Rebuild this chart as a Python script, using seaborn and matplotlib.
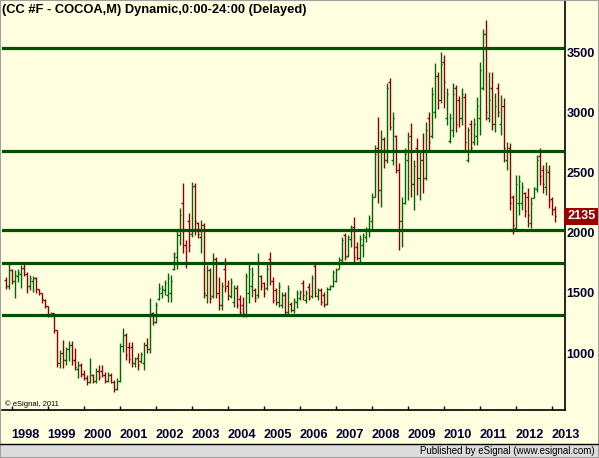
import numpy as np
import pandas as pd
import matplotlib
matplotlib.use("Agg")
import matplotlib.pyplot as plt
import matplotlib.transforms as mtransforms
from matplotlib.patches import Rectangle
from matplotlib.lines import Line2D
import seaborn as sns

# monthly bars, month index counted from Jan 1998 (first bar = Nov 1997)
start_month = -2
opens = [
    1610, 1560,
    1690, 1600, 1640, 1660, 1710, 1660, 1560, 1600, 1620, 1530, 1500, 1440,
    1390, 1315, 1330, 1190, 920, 1000, 940, 1030, 1070, 940, 870, 900,
    830, 790, 760, 820, 770, 850, 850, 820, 770, 820, 760, 700,
    770, 1060, 1150, 1050, 1050, 920, 960, 930, 920, 1070, 1030, 1330,
    1260, 1450, 1500, 1520, 1480, 1500, 1700, 1800, 1980, 2250, 1900, 2100,
    1990, 2390, 2080, 1960, 2060, 1480, 1690, 1470, 1780, 1500, 1400, 1700,
    1560, 1470, 1420, 1540, 1450, 1400, 1320, 1500, 1560, 1520, 1480, 1640,
    1580, 1540, 1780, 1600, 1520, 1420, 1400, 1480, 1340, 1410, 1360, 1420,
    1460, 1580, 1440, 1550, 1470, 1720, 1470, 1520, 1480, 1410, 1530, 1560,
    1600, 1700, 1770, 1980, 1810, 1950, 2050, 1880, 1790, 1900, 1960, 2030,
    2100, 2300, 2700, 2350, 2780, 2600, 3250, 2600, 2800, 2520, 2100, 2250,
    2600, 2800, 2400, 2700, 2450, 2600, 2450, 2950, 2800, 3000, 3300, 3100,
    3420, 2950, 2760, 2850, 3200, 3100, 2950, 3130, 2600, 2900, 2750, 2800,
    2950, 3200, 3650, 2950, 3200, 2900, 3200, 2900, 3050, 2600, 2700, 2300,
    2040, 2250, 2250, 2330, 2300, 2080, 2290, 2360, 2640, 2520, 2380, 2500,
    2280, 2200,
]
highs = [
    1635, 1760,
    1700, 1690, 1700, 1730, 1755, 1676, 1650, 1640, 1630, 1535, 1500, 1445,
    1390, 1345, 1330, 1190, 1026, 1109, 1054, 1096, 1096, 1040, 930, 915,
    860, 819, 957, 825, 874, 902, 902, 846, 846, 833, 777, 791,
    1082, 1206, 1165, 1095, 1095, 971, 999, 1012, 1095, 1123, 1455, 1344,
    1427, 1580, 1566, 1607, 1663, 1649, 1843, 2022, 2202, 2410, 1939, 2160,
    2424, 2415, 2092, 2105, 2078, 1732, 1704, 1829, 1801, 1635, 1593, 1787,
    1607, 1621, 1566, 1566, 1483, 1469, 1663, 1746, 1718, 1538, 1829, 1649,
    1593, 1746, 1843, 1635, 1538, 1593, 1510, 1510, 1566, 1427, 1455, 1524,
    1524, 1607, 1524, 1580, 1649, 1746, 1538, 1538, 1510, 1552, 1566, 1690,
    1704, 1801, 1967, 1995, 1981, 2064, 2133, 1925, 1981, 1995, 2050, 2147,
    2327, 2728, 2963, 2852, 2797, 3240, 3281, 3004, 2811, 2576, 2299, 2700,
    2838, 2908, 2603, 2783, 2686, 2825, 2921, 3004, 3212, 3406, 3336, 3503,
    3475, 3198, 2991, 3240, 3226, 3134, 3198, 3157, 2880, 2935, 2949, 3129,
    3419, 3688, 3765, 3336, 3336, 3157, 3240, 3143, 3115, 2755, 2742, 2313,
    2479, 2479, 2423, 2341, 2368, 2299, 2382, 2645, 2700, 2560, 2590, 2560,
    2300, 2220,
]
lows = [
    1530, 1530,
    1570, 1460, 1590, 1540, 1640, 1502, 1520, 1510, 1497, 1480, 1413, 1372,
    1303, 1300, 1165, 888, 874, 874, 900, 930, 900, 860, 791, 805,
    775, 736, 750, 750, 749, 777, 805, 749, 763, 749, 680, 694,
    763, 1012, 943, 915, 888, 888, 860, 915, 860, 999, 998, 1234,
    1250, 1440, 1455, 1483, 1427, 1427, 1690, 1696, 1900, 1829, 1704, 1843,
    1967, 1981, 1953, 1829, 1461, 1414, 1414, 1455, 1455, 1358, 1358, 1510,
    1441, 1455, 1386, 1372, 1317, 1303, 1303, 1414, 1469, 1427, 1455, 1524,
    1469, 1524, 1566, 1414, 1400, 1386, 1372, 1317, 1317, 1344, 1331, 1372,
    1441, 1441, 1414, 1441, 1455, 1469, 1441, 1400, 1386, 1400, 1520, 1552,
    1593, 1696, 1759, 1773, 1801, 1884, 1759, 1773, 1759, 1801, 1925, 1967,
    2022, 2299, 2244, 2216, 2534, 2580, 2852, 2562, 2493, 1856, 1884, 2240,
    2271, 2299, 2188, 2313, 2271, 2327, 2437, 2686, 2783, 2949, 3024, 3074,
    3035, 2894, 2742, 2797, 2838, 2880, 2894, 2672, 2589, 2672, 2728, 2728,
    2811, 3184, 2935, 2921, 2852, 2838, 2963, 2811, 2589, 2520, 2188, 1985,
    2010, 2147, 2188, 2133, 2050, 2036, 2285, 2341, 2396, 2328, 2311, 2203,
    2147, 2089,
]
closes = [
    1560, 1690,
    1600, 1650, 1670, 1710, 1660, 1560, 1620, 1625, 1530, 1500, 1450, 1390,
    1320, 1335, 1190, 920, 1000, 940, 1030, 1070, 940, 880, 900, 830,
    790, 760, 820, 770, 850, 800, 820, 770, 820, 760, 700, 770,
    1060, 1150, 980, 950, 920, 950, 900, 990, 1070, 1030, 1320, 1260,
    1400, 1540, 1530, 1580, 1620, 1600, 1820, 1980, 2150, 1900, 1760, 1900,
    2380, 2100, 1990, 2060, 1500, 1690, 1460, 1780, 1500, 1400, 1560, 1540,
    1480, 1590, 1540, 1400, 1340, 1330, 1640, 1700, 1660, 1460, 1760, 1560,
    1500, 1700, 1600, 1440, 1420, 1560, 1480, 1340, 1530, 1360, 1430, 1500,
    1510, 1480, 1500, 1460, 1620, 1500, 1520, 1420, 1400, 1530, 1555, 1670,
    1690, 1780, 1940, 1800, 1960, 2040, 1800, 1790, 1950, 1980, 2030, 2120,
    2300, 2650, 2350, 2780, 2600, 3200, 2880, 2950, 2520, 2100, 2250, 2650,
    2750, 2400, 2550, 2450, 2600, 2450, 2850, 2750, 3150, 3300, 3100, 3400,
    3250, 3150, 2950, 3150, 2900, 2950, 3150, 2750, 2850, 2700, 2900, 3050,
    3350, 3650, 3000, 3100, 2900, 3050, 3000, 3050, 2700, 2680, 2250, 2060,
    2400, 2430, 2380, 2180, 2150, 2250, 2370, 2600, 2470, 2400, 2520, 2260,
    2190, 2135,
]

levels = [3530, 2680, 2025, 1750, 1320]
years = list(range(1998, 2014))
price_ticks = [1000, 1500, 2000, 2500, 3000, 3500]
last_price = 2135
title = "(CC #F - COCOA,M) Dynamic,0:00-24:00 (Delayed)"

df = pd.DataFrame({"open": opens, "high": highs, "low": lows, "close": closes})
df["month"] = np.arange(start_month, start_month + len(df))
df["color"] = np.where(df["close"] >= df["open"], "#006400", "#8b0000")

bg = "#ffffe0"
sns.set_theme(style="white", rc={"axes.facecolor": bg, "figure.facecolor": bg})
plt.rcParams["font.family"] = ["Liberation Sans", "DejaVu Sans"]

fig = plt.figure(figsize=(5.99, 4.58), dpi=100)
ax = fig.add_axes([2 / 599, 48 / 458, 563 / 599, 410 / 458])
ax.set_xlim(-3.23, 184.4)
ax.set_ylim(527, 3932)

# OHLC bars
ax.vlines(df["month"], df["low"], df["high"], colors=df["color"], lw=1.0, zorder=2)
ax.hlines(df["open"], df["month"] - 0.45, df["month"], colors=df["color"], lw=1.0, zorder=2)
ax.hlines(df["close"], df["month"], df["month"] + 0.45, colors=df["color"], lw=1.0, zorder=2)

# support / resistance levels
for lv in levels:
    ax.axhline(lv, color="#005000", lw=2.3, zorder=3)

for side in ["left", "top"]:
    ax.spines[side].set_visible(False)
for side in ["right", "bottom"]:
    ax.spines[side].set_color("black")
    ax.spines[side].set_linewidth(1.2)

ax.set_xticks([12 * k for k in range(len(years))])
ax.tick_params(axis="x", direction="in", length=3, width=1, color="black",
               labelbottom=False, bottom=True)
ax.yaxis.tick_right()
ax.set_yticks(price_ticks)
ax.tick_params(axis="y", length=0, pad=1, labelsize=9.2, labelcolor="#000033")
for lab in ax.get_yticklabels():
    lab.set_fontweight("bold")
ax.grid(False)

xt = mtransforms.blended_transform_factory(ax.transData, ax.transAxes)
for k, yr in enumerate(years):
    ax.text(12 * k - 0.2, -0.061, str(yr), transform=xt, ha="left", va="center",
            fontsize=9.2, fontweight="bold", color="#000033", clip_on=False)

yt = mtransforms.blended_transform_factory(ax.transAxes, ax.transData)
ax.text(1.0 + 2 / 563, last_price, str(last_price), transform=yt, ha="left", va="center",
        fontsize=9.2, fontweight="bold", color="white", zorder=5,
        bbox=dict(boxstyle="square,pad=0.2", fc="#990000", ec="none"))

fig.text(2 / 599, 1 - 10 / 458, title, ha="left", va="center", fontsize=9.3,
         fontweight="bold", color="black")
fig.text(5 / 599, 1 - 404 / 458, "\u00a9 eSignal, 2011", ha="left", va="center",
         fontsize=5.5, color="black")

# footer band
fig.add_artist(Rectangle((0, 0), 1, 14 / 458, transform=fig.transFigure,
                         fc="#dcdcdc", ec="none"))
fig.add_artist(Line2D([0, 1], [14 / 458, 14 / 458], transform=fig.transFigure,
                      color="black", lw=1))
fig.text(595 / 599, 7 / 458, "Published by eSignal (www.esignal.com)", ha="right",
         va="center", fontsize=7, color="black")
fig.add_artist(Rectangle((0, 0), 1, 1, transform=fig.transFigure, fill=False,
                         ec="#a0a0a0", lw=1.5))

fig.savefig("out.png", dpi=100, facecolor=bg)
